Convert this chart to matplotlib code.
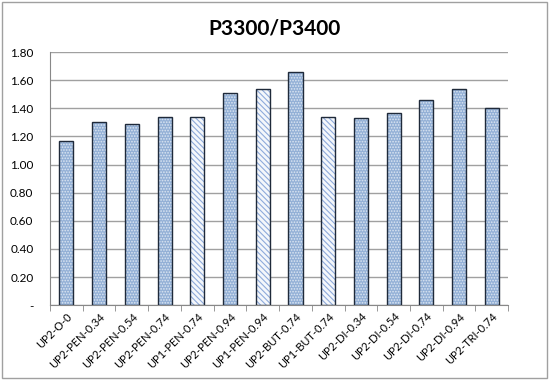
import matplotlib.pyplot as plt
import numpy as np
from matplotlib.patches import Rectangle

plt.rcParams['font.family'] = ['Lato', 'DejaVu Sans']
plt.rcParams['hatch.linewidth'] = 0.8

categories = ['UP2-O-0', 'UP2-PEN-0.34', 'UP2-PEN-0.54', 'UP2-PEN-0.74', 'UP1-PEN-0.74',
              'UP2-PEN-0.94', 'UP1-PEN-0.94', 'UP2-BUT-0.74', 'UP1-BUT-0.74', 'UP2-DI-0.34',
              'UP2-DI-0.54', 'UP2-DI-0.74', 'UP2-DI-0.94', 'UP2-TRI-0.74']
values = [1.17, 1.30, 1.29, 1.34, 1.34, 1.51, 1.54, 1.66, 1.34, 1.33, 1.37, 1.46, 1.54, 1.40]
striped = [False, False, False, False, True, False, True, False, True,
           False, False, False, False, False]
yticks = [0, 0.2, 0.4, 0.6, 0.8, 1.0, 1.2, 1.4, 1.6, 1.8]
ytick_labels = ['-', '0.20', '0.40', '0.60', '0.80', '1.00', '1.20', '1.40', '1.60', '1.80']

fig = plt.figure(figsize=(5.5, 3.8), dpi=100)
ax = fig.add_axes([0.091, 0.197, 0.833, 0.666])

x = np.arange(len(categories))
w = 0.43
for xi, v, s in zip(x, values, striped):
    if s:
        ax.bar(xi, v, w, color='#F4F7FB', edgecolor='#8EAADB', hatch='\\\\\\\\\\\\', linewidth=0, zorder=2)
    else:
        ax.bar(xi, v, w, color='#93B0D6', edgecolor='#DCE6F2', hatch='......', linewidth=0, zorder=2)
    ax.bar(xi, v, w, fill=False, edgecolor='#1F2A3A', linewidth=1.0, zorder=3)

ax.set_xlim(-0.5, len(categories) - 0.5)
ax.set_ylim(0, 1.8)
ax.set_yticks(yticks)
ax.set_yticklabels(ytick_labels, fontsize=8.5)
ax.set_xticks(x)
ax.set_xticklabels(categories, rotation=45, ha='right', rotation_mode='anchor', fontsize=8)
ax.tick_params(axis='x', length=0, pad=4)
ax.tick_params(axis='y', length=0, pad=12)
ax.set_xticks(np.arange(-0.5, len(categories), 1), minor=True)
ax.tick_params(axis='x', which='minor', length=4, color='#888888')

ax.grid(axis='y', color='#A0A0A0', linewidth=1, zorder=0)
ax.set_axisbelow(True)
for side in ['top', 'right']:
    ax.spines[side].set_visible(False)
for side in ['left', 'bottom']:
    ax.spines[side].set_color('#888888')

fig.text(0.5, 0.925, 'P3300/P3400', ha='center', va='center', fontsize=15, fontweight='bold')
fig.patches.append(Rectangle((0.004, 0.005), 0.99, 0.99, transform=fig.transFigure,
                             fill=False, edgecolor='#A0A0A0', linewidth=1))

plt.savefig('out.png', dpi=100)
